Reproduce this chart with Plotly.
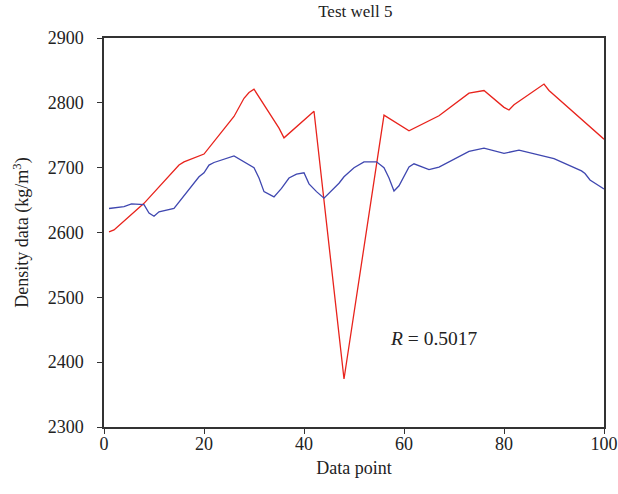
import plotly.graph_objects as go

# Measured density log (red)
measured_x = [1, 2, 8, 15, 16, 20, 26, 28, 29, 30, 35, 36, 42, 48, 56, 61, 67, 72, 73, 76, 80, 81, 82, 88, 89, 100]
measured_y = [2601, 2604, 2645, 2704, 2709, 2721, 2779, 2807, 2816, 2821, 2761, 2746, 2787, 2374, 2781, 2757, 2780, 2810, 2815, 2819, 2793, 2789, 2797, 2829, 2819, 2744]

# Predicted density (blue)
predicted_x = [1, 4, 5.5, 7.5, 8, 9, 10, 11, 14, 19, 20, 21, 22, 26, 30, 31, 32, 34, 35.5, 37, 38.5, 40, 41, 42.5, 44, 47, 48, 50, 52, 54.5, 56, 57, 58, 59, 61, 62, 65, 67, 73, 76, 80, 83, 90, 95.5, 96.2, 97.2, 100]
predicted_y = [2637, 2640, 2644, 2644, 2643, 2630, 2625, 2632, 2637, 2686, 2692, 2704, 2708, 2718, 2700, 2684, 2663, 2655, 2668, 2684, 2690, 2692, 2675, 2663, 2653, 2676, 2686, 2700, 2709, 2709, 2700, 2684, 2664, 2672, 2701, 2706, 2697, 2701, 2725, 2730, 2722, 2727, 2714, 2695, 2691, 2681, 2667]

x_ticks = [0, 20, 40, 60, 80, 100]
y_ticks = [2300, 2400, 2500, 2600, 2700, 2800, 2900]

FONT = "Liberation Serif"

fig = go.Figure()
fig.add_trace(go.Scatter(x=measured_x, y=measured_y, mode="lines",
                         line=dict(color="#e8231c", width=1.3), showlegend=False))
fig.add_trace(go.Scatter(x=predicted_x, y=predicted_y, mode="lines",
                         line=dict(color="#3f47b0", width=1.3), showlegend=False))

fig.add_annotation(x=66, y=2436, xref="x", yref="y",
                   text="<i>R</i> = 0.5017", showarrow=False,
                   font=dict(family=FONT, size=19.5, color="#222"))

axis_common = dict(showgrid=False, zeroline=False, showline=True, linecolor="#333",
                   linewidth=1.5, mirror=True, ticks="outside", ticklen=5,
                   tickcolor="#333", tickwidth=1.2, automargin=False,
                   tickfont=dict(family=FONT, size=18, color="#222"))

fig.update_layout(
    template="none",
    width=618, height=494,
    margin=dict(l=104, r=14, t=38, b=67),
    paper_bgcolor="white", plot_bgcolor="white",
    title=dict(text="Test well 5", x=0.575, xanchor="center", y=0.99, yanchor="top",
               font=dict(family=FONT, size=17, color="#222")),
    xaxis=dict(range=[0, 100], tickvals=x_ticks, ticklabelstandoff=-5,
               title=dict(text="Data point", standoff=8,
                          font=dict(family=FONT, size=18, color="#222")),
               **axis_common),
    yaxis=dict(range=[2300, 2900], tickvals=y_ticks, ticklabelstandoff=10,
               title=dict(text="Density data (kg/m<sup>3</sup>)", standoff=14,
                          font=dict(family=FONT, size=18, color="#222")),
               **axis_common),
)

fig.write_html("out.html")
